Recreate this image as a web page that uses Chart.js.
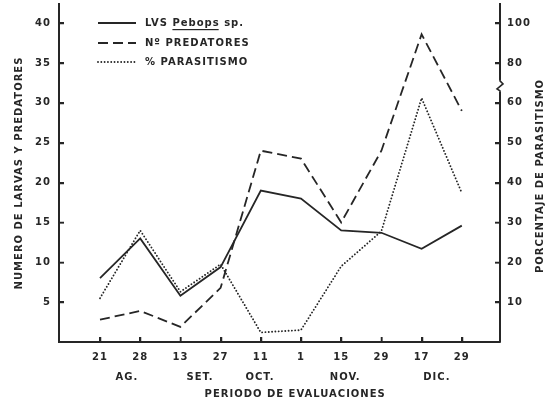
<!DOCTYPE html>
<html><head><meta charset="utf-8">
<script src="https://cdn.jsdelivr.net/npm/chart.js@4/dist/chart.umd.min.js"></script>
<style>html,body{margin:0;padding:0;background:#fff}canvas{display:block}</style>
</head><body>
<canvas id="c" width="549" height="406"></canvas>
<script>
// ---- data ----
const dayLabels = ['21','28','13','27','11','1','15','29','17','29'];
const monthLabels = ['AG.','SET.','OCT.','NOV.','DIC.'];
const monthPositions = [0.67, 2.49, 3.98, 6.1, 8.38];
const larvas      = [8, 13, 5.8, 9.4, 19, 18, 14, 13.7, 11.7, 14.6];
const predatores  = [2.8, 3.9, 1.9, 6.8, 24, 23, 15, 24, 38.6, 29];
const parasitismo = [11, 28, 12.6, 19.5, 2.4, 3, 19, 27.8, 62.4, 37.4];
const leftTicks  = [5,10,15,20,25,30,35,40];
const rightTicks = [10,20,30,40,50,60,80,100];
const seriesNames = ['LVS Pebops sp.', 'N\u00BA PREDATORES', '% PARASITISMO'];
const xTitle = 'PERIODO DE EVALUACIONES';
const yTitle = 'NUMERO DE LARVAS Y PREDATORES';
const y2Title = 'PORCENTAJE DE PARASITISMO';

// right axis has a break above 60: 0-60 at 2 % per left unit, above at 4 % per unit
const BREAK_AT = 60;
function brokenMap(v){ return v <= BREAK_AT ? v/2 : BREAK_AT/2 + (v-BREAK_AT)/4; }

class BrokenScale extends Chart.LinearScale {
  getPixelForValue(v){ return (v === null || v === undefined) ? NaN : super.getPixelForValue(brokenMap(v)); }
}
BrokenScale.id = 'brokenLinear';
BrokenScale.defaults = Chart.LinearScale.defaults;
Chart.register(BrokenScale);

const INK = '#262626';
const FAM = "'DejaVu Sans', sans-serif";
const FONT = {family: FAM, size: 10, weight: 'bold'};
const toXY = arr => arr.map((v,i)=>({x:i, y:v}));

const spacingPlugin = {
  id:'spacing',
  beforeDraw(chart){ chart.ctx.letterSpacing = '1px'; }
};

const decorPlugin = {
  id:'decor',
  afterDraw(chart){
    const c = chart.ctx;
    c.save();
    c.letterSpacing = '1px';
    // inward tick marks
    c.strokeStyle = INK; c.lineWidth = 1.5; c.setLineDash([]);
    const ca = chart.chartArea;
    const sx = chart.scales.x, sy = chart.scales.y, sy2 = chart.scales.y2;
    c.beginPath();
    sx.ticks.forEach(t => { const p = Math.round(sx.getPixelForValue(t.value)) + 0.5; c.moveTo(p, ca.bottom); c.lineTo(p, ca.bottom - 5); });
    sy.ticks.forEach(t => { const p = Math.round(sy.getPixelForValue(t.value)) + 0.5; c.moveTo(ca.left, p); c.lineTo(ca.left + 5, p); });
    sy2.ticks.forEach(t => { const p = Math.round(sy2.getPixelForValue(t.value)) + 0.5; c.moveTo(ca.right, p); c.lineTo(ca.right - 5, p); });
    c.stroke();
    // legend
    const rows = [23, 43, 62];
    const x0 = 98, x1 = 136, tx = 145;
    chart.data.datasets.forEach((ds, i) => {
      const y = rows[i];
      c.save();
      c.strokeStyle = ds.borderColor;
      c.lineWidth = ds.borderWidth;
      c.lineCap = ds.borderCapStyle || 'butt';
      c.setLineDash(ds.borderDash || []);
      c.beginPath(); c.moveTo(x0, y); c.lineTo(x1, y); c.stroke();
      c.restore();
      c.font = 'bold 10px ' + FAM;
      c.fillStyle = INK;
      c.textBaseline = 'middle';
      c.textAlign = 'left';
      c.fillText(ds.label, tx, y);
      const k = ds.label.indexOf('Pebops');
      if (k >= 0) {
        const ux = tx + c.measureText(ds.label.slice(0,k)).width;
        const uw = c.measureText('Pebops').width - 1;
        c.fillRect(ux, y + 6, uw, 1.2);
      }
    });
    // right axis title (reads bottom to top)
    c.save();
    c.font = 'bold 10px ' + FAM;
    c.fillStyle = INK;
    c.textAlign = 'center';
    c.textBaseline = 'middle';
    c.translate(540, 176);
    c.rotate(-Math.PI/2);
    c.fillText(y2Title, 0, 0);
    c.restore();
    // axis break mark
    const bx = sy2.left, by = sy2.getPixelForValue(68.5);
    c.fillStyle = '#fff';
    c.fillRect(bx - 4, by - 6, 8, 12);
    c.strokeStyle = INK; c.lineWidth = 1.6; c.setLineDash([]);
    c.beginPath();
    c.moveTo(bx, by - 7); c.lineTo(bx, by - 5); c.lineTo(bx + 3, by - 2);
    c.lineTo(bx - 3, by + 3); c.lineTo(bx, by + 5); c.lineTo(bx, by + 7);
    c.stroke();
    c.restore();
  }
};

const gridOpts = {drawOnChartArea:false, drawTicks:true, tickLength:-5, color:INK, lineWidth:1.5};
const borderOpts = {display:true, color:INK, width:2};
const fitV = w => s => { s.width = w; s.paddingTop = 0; s.paddingBottom = 0; };
const fitH = h => s => { s.height = h; s.paddingLeft = 0; s.paddingRight = 0; };

new Chart(document.getElementById('c'), {
  type:'line',
  data:{datasets:[
    {label:seriesNames[0], data:toXY(larvas), borderColor:INK, borderWidth:1.8, yAxisID:'y', xAxisID:'x'},
    {label:seriesNames[1], data:toXY(predatores), borderColor:INK, borderWidth:1.8, borderDash:[10,5], yAxisID:'y', xAxisID:'x'},
    {label:seriesNames[2], data:toXY(parasitismo), borderColor:INK, borderWidth:1.9, borderDash:[0.01,3.3], borderCapStyle:'round', yAxisID:'y2', xAxisID:'x'}
  ]},
  options:{
    responsive:false, animation:false, devicePixelRatio:1,
    layout:{padding:{top:4, left:0, right:0, bottom:0}},
    elements:{point:{radius:0}, line:{tension:0, fill:false}},
    plugins:{legend:{display:false}, tooltip:{enabled:false}},
    scales:{
      x:{type:'linear', position:'bottom', min:-1.02, max:9.95, weight:0,
        afterBuildTicks: s => { s.ticks = dayLabels.map((_,i)=>({value:i})); },
        afterFit: fitH(24),
        ticks:{callback: v => dayLabels[v], autoSkip:false, maxRotation:0, padding:14, color:INK, font:FONT},
        grid:gridOpts, border:borderOpts},
      xm:{type:'linear', position:'bottom', min:-1.02, max:9.95, weight:1,
        afterBuildTicks: s => { s.ticks = monthPositions.map(v=>({value:v})); },
        afterFit: fitH(40),
        ticks:{callback:(v,i)=>monthLabels[i], autoSkip:false, maxRotation:0, padding:5, color:INK, font:FONT},
        grid:{display:false, drawTicks:false}, border:{display:false},
        title:{display:true, text:'       ' + xTitle, color:INK, font:FONT, padding:{top:0, bottom:6}}},
      y:{type:'linear', position:'left', min:0, max:42.4,
        afterBuildTicks: s => { s.ticks = leftTicks.map(v=>({value:v})); },
        afterFit: fitV(59),
        ticks:{padding:13, color:INK, font:FONT},
        grid:gridOpts, border:borderOpts,
        title:{display:true, text:yTitle, color:INK, font:FONT, padding:{top:13, bottom:0}}},
      y2:{type:'brokenLinear', position:'right', min:0, max:42.4,
        afterBuildTicks: s => { s.ticks = rightTicks.map(v=>({value:v})); },
        afterFit: fitV(49),
        ticks:{padding:12, color:INK, font:FONT},
        grid:gridOpts, border:borderOpts}
    }
  },
  plugins:[spacingPlugin, decorPlugin]
});
</script>
</body></html>
